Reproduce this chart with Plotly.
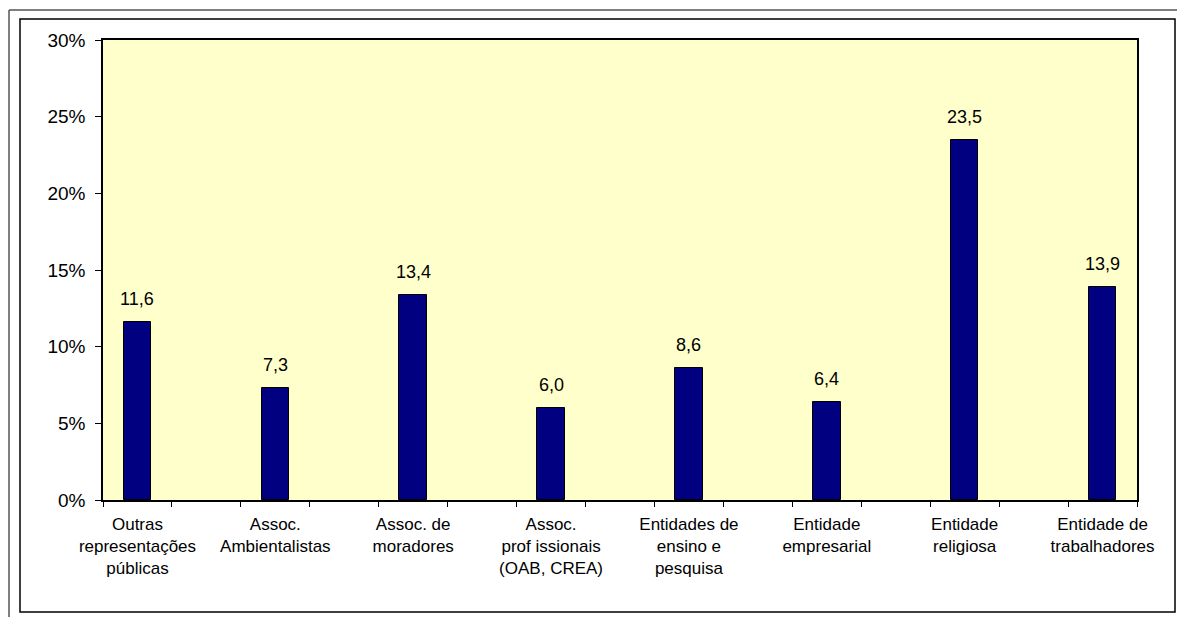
import plotly.graph_objects as go

categories = [
    "Outras<br>representações<br>públicas",
    "Assoc.<br>Ambientalistas",
    "Assoc. de<br>moradores",
    "Assoc.<br>prof issionais<br>(OAB, CREA)",
    "Entidades de<br>ensino e<br>pesquisa",
    "Entidade<br>empresarial",
    "Entidade<br>religiosa",
    "Entidade de<br>trabalhadores",
]
values = [11.6, 7.3, 13.4, 6.0, 8.6, 6.4, 23.5, 13.9]
y_ticks = [0, 5, 10, 15, 20, 25, 30]
y_labels = [f"{t}%" for t in y_ticks]

# Each category occupies every other slot (empty slot in between)
positions = [2 * i for i in range(len(categories))]
n_slots = 2 * len(categories) - 1

W, H = 1177, 617
L, R, T, B = 103, 40, 40, 117
pw = W - L - R
ph = H - T - B

def px_to_paper_x(px):
    return (px - L) / pw

def px_to_paper_y(py):
    return 1 - (py - T) / ph

FONT = "Liberation Sans, Arial, sans-serif"

fig = go.Figure()
fig.add_trace(go.Bar(
    x=positions,
    y=values,
    width=0.4,
    marker=dict(color="#000080", line=dict(color="#000000", width=1)),
    hoverinfo="skip",
))

for xpos, v in zip(positions, values):
    fig.add_annotation(
        x=xpos, y=v, xref="x", yref="y",
        text=f"{v:.1f}".replace(".", ","),
        showarrow=False, yanchor="bottom", yshift=11,
        font=dict(family=FONT, size=18, color="#000000"),
    )

# Decorative frames
fig.add_shape(type="rect", xref="paper", yref="paper",
              x0=px_to_paper_x(20), x1=px_to_paper_x(1175),
              y0=px_to_paper_y(612), y1=px_to_paper_y(19),
              line=dict(color="#000000", width=1.5), layer="below")
fig.add_shape(type="line", xref="paper", yref="paper",
              x0=px_to_paper_x(9), x1=px_to_paper_x(1177),
              y0=px_to_paper_y(10), y1=px_to_paper_y(10),
              line=dict(color="#555555", width=1.5))
fig.add_shape(type="line", xref="paper", yref="paper",
              x0=px_to_paper_x(9), x1=px_to_paper_x(9),
              y0=px_to_paper_y(10), y1=px_to_paper_y(617),
              line=dict(color="#555555", width=1.5))

fig.update_layout(
    width=W, height=H,
    margin=dict(l=L, r=R, t=T, b=B),
    paper_bgcolor="#FFFFFF",
    plot_bgcolor="#FFFFCC",
    showlegend=False,
    font=dict(family=FONT, color="#000000"),
    xaxis=dict(
        range=[-0.5, n_slots - 0.5],
        tickmode="array",
        tickvals=positions,
        ticktext=categories,
        ticks="",
        ticklabelstandoff=8,
        tickfont=dict(size=17, color="#000000"),
        showgrid=False, zeroline=False,
        showline=True, linecolor="#000000", linewidth=1.5, mirror=True,
        minor=dict(tickmode="linear", tick0=-0.5, dtick=1, ticks="outside",
                   ticklen=5, tickwidth=1, tickcolor="#000000", showgrid=False),
        fixedrange=True,
    ),
    yaxis=dict(
        range=[0, 30],
        tickmode="array",
        tickvals=y_ticks,
        ticktext=y_labels,
        ticks="outside", ticklen=6, tickwidth=1, tickcolor="#000000",
        ticklabelstandoff=6,
        tickfont=dict(size=19, color="#000000"),
        showgrid=False, zeroline=False,
        showline=True, linecolor="#000000", linewidth=1.5, mirror=True,
        fixedrange=True,
    ),
    bargap=0,
)

fig.write_html(
    "out.html",
    config={"displayModeBar": False},
    post_script="document.body.style.margin='0';document.body.style.padding='0';",
)
